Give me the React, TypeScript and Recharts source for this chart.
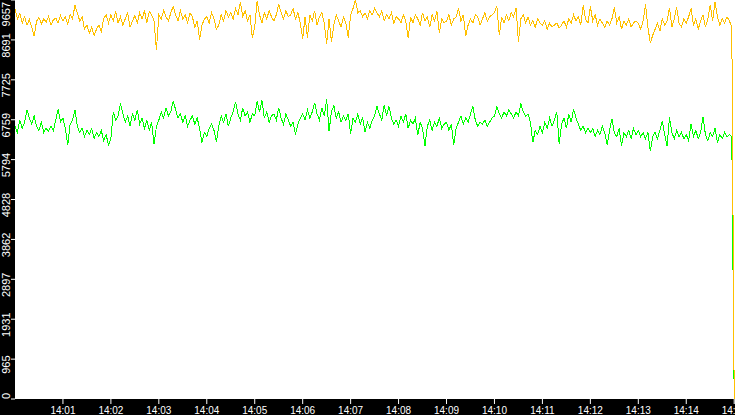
import { LineChart, Line, XAxis, YAxis, CartesianGrid } from 'recharts'

// one sample every 3 s from 14:00:00, last sample at 14:15:00 drops to 0
const sampleSeconds = 3

const yellowSeries = [
  9450, 9200, 9330, 9100, 9250, 9050, 9180, 9000, 8780, 9150, 9230, 9080, 9200, 9120, 9260, 9050, 9180, 9220, 9100, 9280,
  9150, 9250, 9080, 9300, 9200, 9530, 9350, 9150, 9250, 8950, 9050, 8850, 9000, 8800, 8950, 9050, 8900, 9200, 9300, 9100,
  9300, 9150, 9380, 9100, 9250, 9050, 9200, 9350, 9000, 9150, 9280, 9100, 9350, 9200, 9400, 9100, 9380, 9300, 9150, 8450,
  9300, 9200, 9400, 9250, 9150, 9350, 9500, 9300, 9150, 9400, 9200, 9300, 9100, 9350, 9250, 9000, 9150, 8700, 9050, 9200,
  9250, 9100, 9350, 9200, 8950, 9050, 9300, 9150, 9400, 9250, 9350, 9200, 9450, 9300, 9600, 9250, 9400, 9150, 9300, 8750,
  9000, 9630, 9300, 9100, 9350, 9200, 9400, 9250, 9150, 9300, 9560, 9350, 9200, 9400, 9250, 9300, 9450, 9200, 9350, 9100,
  8720, 9250, 8750, 9300, 9150, 9400, 9050, 9250, 9350, 9100, 8600, 9200, 8650, 9050, 9300, 9150, 9000, 9250, 9100, 8750,
  9300, 9450, 9657, 9350, 9400, 9250, 9350, 9200, 9400, 9300, 9450, 9350, 9250, 9400, 9150, 9300, 9200, 9350, 9100, 9250,
  9200, 9100, 9300, 9150, 8730, 9250, 9100, 9300, 9200, 9050, 9350, 9150, 9250, 9000, 9300, 9150, 9380, 8850, 9200, 9100,
  9150, 9300, 9050, 9200, 9250, 9450, 9150, 9300, 8780, 9050, 9200, 9100, 9300, 9250, 9050, 9200, 9350, 9150, 9250, 9300,
  9350, 9510, 8800, 9250, 9100, 9300, 9150, 9350, 9250, 9470, 8650, 9200, 9300, 9100, 9250, 9050, 9150, 9000, 9200, 9100,
  9050, 9150, 8950, 9100, 9000, 9050, 9100, 8980, 9050, 9150, 9000, 9200, 9100, 9300, 9150, 9250, 9050, 9530, 9200, 9100,
  9500, 9150, 9300, 9050, 9200, 9100, 9000, 9150, 9050, 9200, 9480, 9100, 9250, 8950, 9150, 9050, 9200, 9000, 9100, 9150,
  9100, 8950, 9150, 9550, 9000, 8620, 8800, 8950, 9100, 8900, 9200, 9050, 9150, 9470, 9000, 9200, 9480, 9100, 9000, 9200,
  9100, 9250, 9450, 9050, 9200, 8950, 9150, 9300, 9000, 9200, 9530, 9150, 9600, 9250, 9050, 9200, 9100, 9250, 9150, 9000,
  0,
]

const greenSeries = [
  6600, 6450, 6750, 6550, 6700, 7000, 6800, 6650, 6850, 6600, 6500, 6700, 6450, 6550, 6480, 6600, 6500, 6750, 7020, 6700,
  6800, 6550, 6150, 6650, 6750, 7000, 6600, 6450, 6550, 6350, 6500, 6400, 6550, 6300, 6450, 6350, 6500, 6250, 6400, 6150,
  6300, 6950, 6750, 6850, 7150, 6900, 6700, 6850, 6600, 6900, 6750, 7000, 6650, 6800, 6550, 6750, 6500, 6700, 6170, 6600,
  6750, 6950, 6800, 7050, 6850, 6950, 7220, 7000, 6800, 6900, 6700, 6850, 6600, 6750, 6850, 6650, 6800, 6550, 6210, 6450,
  6350, 6550, 6650, 6500, 6230, 6600, 6850, 6700, 6900, 6600, 6800, 6950, 7190, 6900, 6750, 7050, 6850, 6950, 6700, 6900,
  6850, 7200, 6950, 7230, 6800, 6950, 6700, 6850, 6900, 6750, 7050, 6800, 6650, 6900, 6750, 6600, 6700, 6400, 6650, 6800,
  6900, 6750, 7000, 6800, 6950, 7170, 6900, 6750, 7050, 6850, 7250, 6480, 6950, 7100, 6800, 6950, 6700, 6850, 6750, 6900,
  6420, 6800, 6700, 6900, 6650, 6800, 6450, 6700, 6550, 6750, 6850, 7080, 6900, 6750, 7120, 6850, 7080, 6800, 6650, 6750,
  6600, 6850, 6700, 6900, 6550, 6750, 6650, 6800, 6380, 6700, 6550, 6120, 6600, 6750, 6500, 6700, 6600, 6800, 6550, 6650,
  6700, 6500, 6650, 6150, 6550, 6700, 6850, 6650, 6800, 6700, 6900, 7080, 6750, 6600, 6700, 6650, 6750, 6600, 6700, 6800,
  6850, 7080, 6900, 6800, 6950, 6850, 7000, 6900, 6800, 6950, 6850, 7150, 6950, 6850, 6900, 6700, 6210, 6500, 6400, 6600,
  6450, 6700, 6550, 6800, 6600, 6750, 6950, 6170, 6650, 6800, 6550, 6900, 6700, 7020, 6800, 6650, 6500, 6600, 6450, 6550,
  6450, 6550, 6350, 6500, 6400, 6600, 6450, 6150, 6500, 6780, 6450, 6350, 6550, 6120, 6450, 6350, 6500, 6300, 6550, 6400,
  6500, 6350, 6450, 6300, 6450, 6000, 6350, 6450, 6300, 6500, 6720, 6400, 6120, 6820, 6450, 6300, 6500, 6350, 6450, 6300,
  6400, 6250, 6650, 6350, 6500, 6300, 6450, 6830, 6400, 6250, 6450, 6350, 6550, 6200, 6400, 6300, 6450, 6350, 6400, 6340,
  0,
]

const yTicks = [0, 965, 1931, 2897, 3862, 4828, 5794, 6759, 7725, 8691, 9657]
const xTickSeconds = [60, 120, 180, 240, 300, 360, 420, 480, 540, 600, 660, 720, 780, 840, 900]
const xTickLabels = ['14:01', '14:02', '14:03', '14:04', '14:05', '14:06', '14:07', '14:08', '14:09', '14:10', '14:11', '14:12', '14:13', '14:14', '14:15']

const data = yellowSeries.map((v, i) => ({ t: i * sampleSeconds, yellow: v, green: greenSeries[i] }))

const PLOT_BOTTOM = 399

function YTick(props: any) {
  const label = String(props.payload.value)
  const len = label.length * 6.1
  let c = props.y + 5.5
  if (c - len / 2 < 2) c = 2 + len / 2
  if (c + len / 2 > PLOT_BOTTOM) c = PLOT_BOTTOM - len / 2
  return (
    <text x={10.5} y={c} transform={`rotate(-90, 10.5, ${c})`} textAnchor="middle" fill="#fff" fontSize={11} fontFamily="'Liberation Sans', Arial, sans-serif">
      {label}
    </text>
  )
}

function XTick(props: any) {
  const label = xTickLabels[xTickSeconds.indexOf(props.payload.value)]
  return (
    <text x={props.x} y={414} textAnchor="middle" fill="#fff" fontSize={10} fontFamily="'Liberation Sans', Arial, sans-serif">
      {label}
    </text>
  )
}

export default function App() {
  return (
    <div style={{ position: 'absolute', left: 0, top: 0, width: 735, height: 415, background: '#000', overflow: 'hidden' }}>
      <LineChart width={735} height={415} data={data} margin={{ top: 0, right: 0, bottom: 0, left: 0 }}>
        <CartesianGrid fill="#fff" horizontal={false} vertical={false} />
        <XAxis dataKey="t" type="number" domain={[0, 901]} ticks={xTickSeconds} interval={0} height={16} tickSize={5} axisLine={false} tickLine={{ stroke: '#fff' }} tick={<XTick />} />
        <YAxis type="number" domain={[0, 9657]} ticks={yTicks} interval={0} width={15} tickSize={4} axisLine={false} tickLine={{ stroke: '#fff' }} tick={<YTick />} />
        <Line dataKey="green" type="linear" stroke="#00ff00" strokeWidth={1} dot={false} isAnimationActive={false} shapeRendering="crispEdges" />
        <Line dataKey="yellow" type="linear" stroke="#ffc000" strokeWidth={1} dot={false} isAnimationActive={false} shapeRendering="crispEdges" />
      </LineChart>
    </div>
  )
}
